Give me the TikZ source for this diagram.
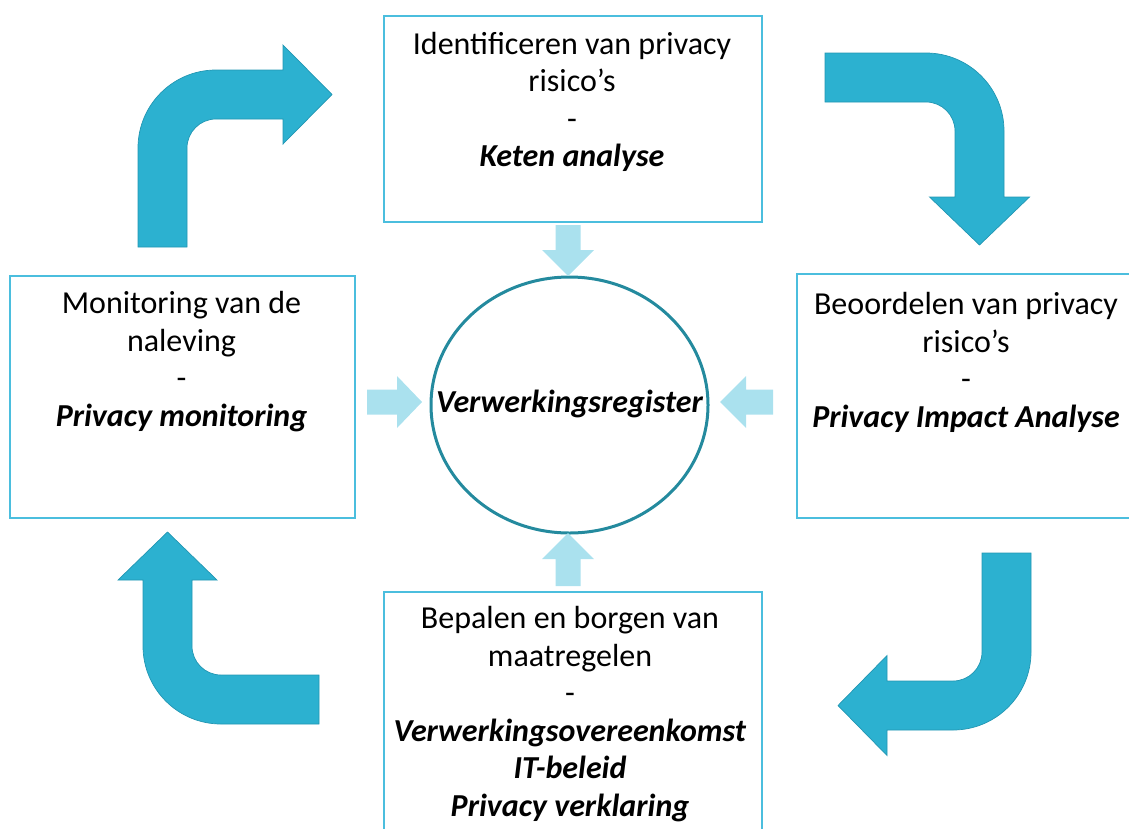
\documentclass[tikz,border=0pt]{standalone}
\usepackage{fontspec}
\setmainfont{Carlito}
\usetikzlibrary{shapes.geometric}
\definecolor{boxblue}{RGB}{75,190,222}
\definecolor{bendfill}{RGB}{44,177,208}
\definecolor{bendedge}{RGB}{34,150,178}
\definecolor{feed}{RGB}{170,225,238}
\definecolor{ring}{RGB}{36,138,158}
\begin{document}
\begin{tikzpicture}[x=1pt,y=1pt,
  panel/.style={draw=boxblue, line width=1.8pt, inner sep=0pt, anchor=north west},
  paneltext/.style={align=center, inner sep=0pt, anchor=north,
    font=\fontsize{32}{37.6}\selectfont},
  bent/.style={fill=bendfill, draw=bendedge, line width=0.7pt, line join=miter},
  feedarrow/.style={fill=feed}
]
\useasboundingbox (0,0) rectangle (1129,-828);
\clip (0,0) rectangle (1129,-828);

% four process panels
\node[panel, minimum width=378pt, minimum height=206pt] (pTop) at (383,-15) {};
\node[panel, minimum width=345pt, minimum height=242pt] (pLeft) at (9,-275) {};
\node[panel, minimum width=345pt, minimum height=244pt] (pRight) at (796,-273) {};
\node[panel, minimum width=378pt, minimum height=260pt] (pBottom) at (383,-591) {};

% panel texts
\node[paneltext] (tTop) at (572,-27.5) {\strut Identificeren van privacy\\ risico’s\\ -\\ \textbf{\textit{Keten analyse}}};
\node[paneltext] (tLeft) at (181.5,-287) {\strut Monitoring van de\\ naleving\\ -\\ \textbf{\textit{Privacy monitoring}}};
\node[paneltext] (tRight) at (966,-288) {\strut Beoordelen van privacy\\ risico’s\\ -\\ \textbf{\textit{Privacy Impact Analyse}}};
\node[paneltext] (tBottom) at (570,-602) {\strut Bepalen en borgen van\\ maatregelen\\ -\\ \textbf{\textit{Verwerkingsovereenkomst}}\\ \textbf{\textit{IT-beleid}}\\ \textbf{\textit{Privacy verklaring}}};

% central register
\node[ellipse, draw=ring, line width=3pt, inner sep=0pt,
      minimum width=277pt, minimum height=256pt] (reg) at (569.5,-405) {};
\node[font=\fontsize{32}{37.6}\selectfont\bfseries\itshape, inner sep=0pt,
      anchor=base] (regText) at (569.5,-412.5) {Verwerkingsregister};

% feed arrows into the register
\path[feedarrow] (555.5,-225) -- (580.5,-225) -- (580.5,-250) -- (594,-250) -- (568,-276) -- (542,-250) -- (555.5,-250) -- cycle;
\path[feedarrow] (555.5,-586) -- (580.5,-586) -- (580.5,-559) -- (594,-559) -- (568,-533) -- (542,-559) -- (555.5,-559) -- cycle;
\path[feedarrow] (367,-389.5) -- (397,-389.5) -- (397,-376) -- (422,-402) -- (397,-428) -- (397,-414.5) -- (367,-414.5) -- cycle;
\path[feedarrow] (773,-389.5) -- (746,-389.5) -- (746,-376) -- (720,-402) -- (746,-428) -- (746,-414.5) -- (773,-414.5) -- cycle;

% bent cycle arrows
\path[bent] (138,-247) -- (138,-148) arc[start angle=180,end angle=90,radius=78]
  -- (283,-70) -- (283,-45) -- (332,-94.5) -- (283,-144) -- (283,-119)
  -- (216,-119) arc[start angle=90,end angle=180,radius=29] -- (187,-247) -- cycle;
\path[bent] (825,-53) -- (926,-53) arc[start angle=90,end angle=0,radius=78]
  -- (1004,-197) -- (1029.5,-197) -- (979.5,-245) -- (929.5,-197) -- (955,-197)
  -- (955,-131) arc[start angle=0,end angle=90,radius=29] -- (825,-102) -- cycle;
\path[bent] (982,-553) -- (1031,-553) -- (1031,-652) arc[start angle=0,end angle=-90,radius=78]
  -- (887,-730) -- (887,-755.5) -- (838,-705.5) -- (887,-655.5) -- (887,-681)
  -- (953,-681) arc[start angle=-90,end angle=0,radius=29] -- cycle;
\path[bent] (319,-675) -- (319,-724) -- (221,-724) arc[start angle=270,end angle=180,radius=78]
  -- (143,-580) -- (118,-580) -- (167.5,-532) -- (217,-580) -- (192,-580)
  -- (192,-646) arc[start angle=180,end angle=270,radius=29] -- cycle;
\end{tikzpicture}
\end{document}
